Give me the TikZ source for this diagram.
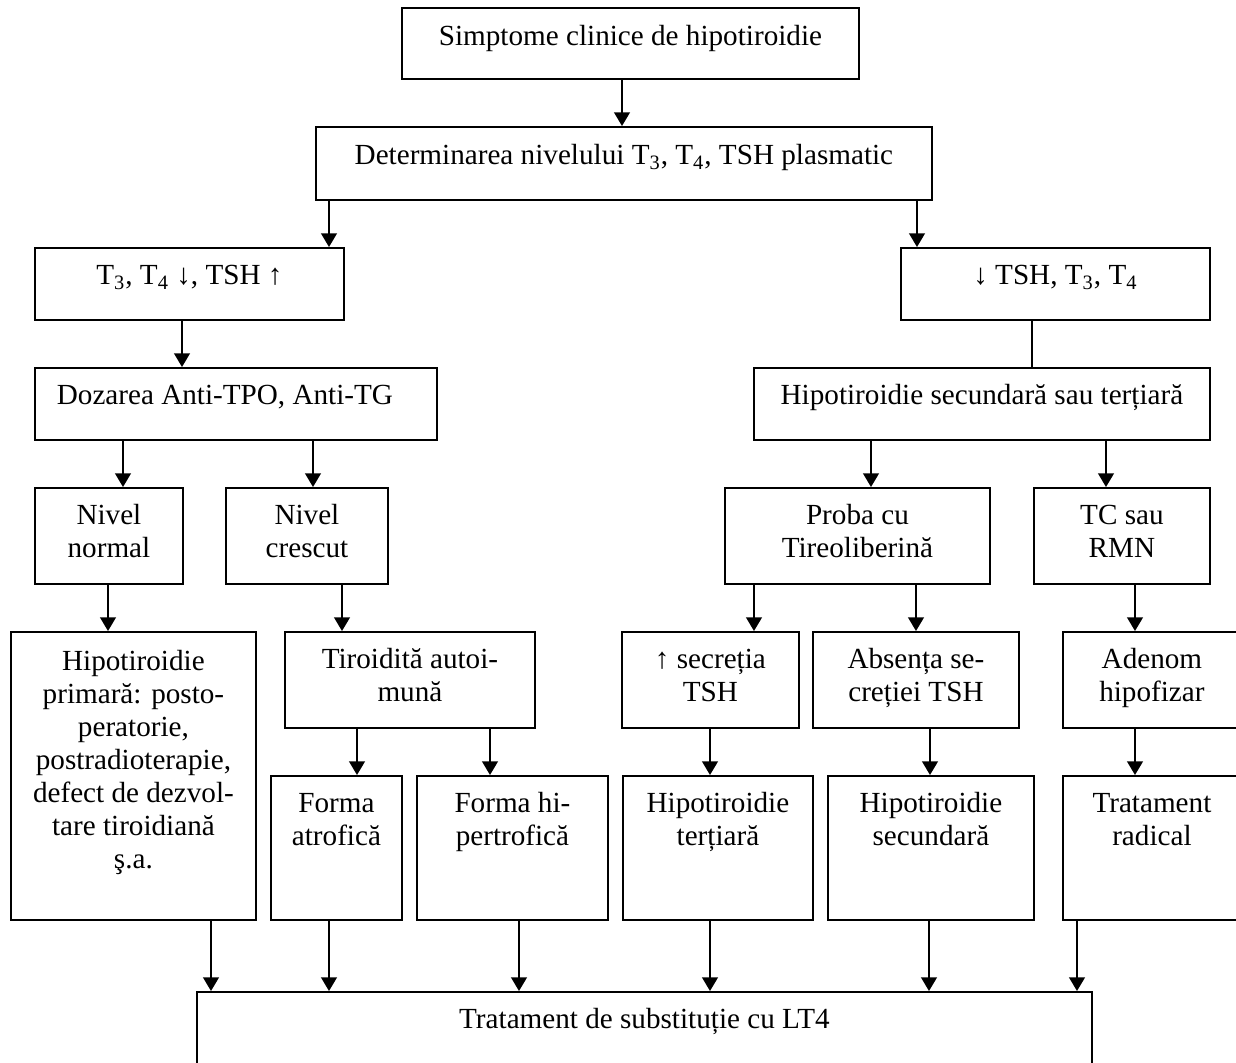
\documentclass[tikz,border=0pt]{standalone}
\usepackage{fontspec}
\setmainfont{Liberation Serif}
\usetikzlibrary{arrows.meta}
% text block of a box: [first baseline]{width}{height}{text}, sizes in px
\newcommand{\cell}[4][37]{\parbox[c][\dimexpr0.48bp*#3\relax][t]{\dimexpr0.48bp*#2\relax}{\centering\rule{0pt}{\dimexpr0.48bp*#1\relax}#4}}

\begin{document}
\begin{tikzpicture}[x=0.48bp, y=-0.48bp,
  font={\fontsize{14bp}{15.84bp}\selectfont},
  box/.style={draw, line width=0.9bp, inner sep=0pt, anchor=north west},
  arr/.style={line width=0.9bp, -{Triangle[width=7.5bp,length=6.5bp]}}]
  \useasboundingbox (0,0) rectangle (1236,1063);
  \node[box] (sympt) at (401,7) {\cell[38]{457}{71}{Simptome clinice de hipotiroidie}};
  \node[box] (determ) at (315,126) {\cell[38]{616}{73}{Determinarea nivelului T\textsubscript{3}, T\textsubscript{4}, TSH plasmatic}};
  \node[box] (tshup) at (34,247) {\cell{309}{72}{T\textsubscript{3}, T\textsubscript{4} ↓, TSH ↑}};
  \node[box] (tshdown) at (900,247) {\cell{309}{72}{↓ TSH, T\textsubscript{3}, T\textsubscript{4}}};
  \node[box] (dozare) at (34,367) {\cell{402}{72}{Dozarea Anti-TPO, Anti-TG\hspace*{\dimexpr0.48bp*22\relax}}};
  \node[box] (secter) at (753,367) {\cell{456}{72}{Hipotiroidie secundară sau terțiară}};
  % level of antibodies, tests
  \node[box] (normal) at (34,487) {\cell{148}{96}{Nivel\\normal}};
  \node[box] (crescut) at (225,487) {\cell{162}{96}{Nivel\\crescut}};
  \node[box] (proba) at (724,487) {\cell{265}{96}{Proba cu\\Tireoliberină}};
  \node[box] (tcrmn) at (1033,487) {\cell{176}{96}{TC sau\\RMN}};
  % diagnoses
  \node[box] (primara) at (10,631) {\cell[39]{245}{288}{Hipotiroidie\\primară: posto-\\peratorie,\\postradioterapie,\\defect de dezvol-\\tare tiroidiană\\ş.a.}};
  \node[box] (autoim) at (284,631) {\cell{250}{96}{Tiroidită autoi-\\mună}};
  \node[box] (secretia) at (621,631) {\cell{177}{96}{↑ secreția\\TSH}};
  \node[box] (absenta) at (812,631) {\cell{206}{96}{Absența se-\\creției TSH}};
  \node[box] (adenom) at (1062,631) {\cell{178}{96}{Adenom\\hipofizar}};
  \node[box] (atrof) at (270,775) {\cell{131}{144}{Forma\\atrofică}};
  \node[box] (hipertrof) at (416,775) {\cell{191}{144}{Forma hi-\\pertrofică}};
  \node[box] (tertiara) at (622,775) {\cell{190}{144}{Hipotiroidie\\terțiară}};
  \node[box] (secundara) at (827,775) {\cell{206}{144}{Hipotiroidie\\secundară}};
  \node[box] (radical) at (1062,775) {\cell{178}{144}{Tratament\\radical}};
  \node[box] (lt4) at (196,991) {\cell{895}{72}{Tratament de substituție cu LT4}};

  \draw[arr] (sympt.south -| 622,0) -- (determ.north -| 622,0);
  \draw[arr] (determ.south -| 329,0) -- (tshup.north -| 329,0);
  \draw[arr] (determ.south -| 917,0) -- (tshdown.north -| 917,0);
  \draw[arr] (tshup.south -| 182,0) -- (dozare.north -| 182,0);
  \draw[line width=0.9bp] (tshdown.south -| 1032,0) -- (secter.north -| 1032,0);
  \draw[arr] (dozare.south -| 123,0) -- (normal.north -| 123,0);
  \draw[arr] (dozare.south -| 313,0) -- (crescut.north -| 313,0);
  \draw[arr] (secter.south -| 871,0) -- (proba.north -| 871,0);
  \draw[arr] (secter.south -| 1106,0) -- (tcrmn.north -| 1106,0);
  \draw[arr] (normal.south -| 108,0) -- (primara.north -| 108,0);
  \draw[arr] (crescut.south -| 342,0) -- (autoim.north -| 342,0);
  \draw[arr] (proba.south -| 754,0) -- (secretia.north -| 754,0);
  \draw[arr] (proba.south -| 916,0) -- (absenta.north -| 916,0);
  \draw[arr] (tcrmn.south -| 1135,0) -- (adenom.north -| 1135,0);
  \draw[arr] (autoim.south -| 357,0) -- (atrof.north -| 357,0);
  \draw[arr] (autoim.south -| 490,0) -- (hipertrof.north -| 490,0);
  \draw[arr] (secretia.south -| 710,0) -- (tertiara.north -| 710,0);
  \draw[arr] (absenta.south -| 930,0) -- (secundara.north -| 930,0);
  \draw[arr] (adenom.south -| 1135,0) -- (radical.north -| 1135,0);
  % all to substitution treatment
  \draw[arr] (primara.south -| 211,0) -- (lt4.north -| 211,0);
  \draw[arr] (atrof.south -| 329,0) -- (lt4.north -| 329,0);
  \draw[arr] (hipertrof.south -| 519,0) -- (lt4.north -| 519,0);
  \draw[arr] (tertiara.south -| 710,0) -- (lt4.north -| 710,0);
  \draw[arr] (secundara.south -| 929,0) -- (lt4.north -| 929,0);
  \draw[arr] (radical.south -| 1077,0) -- (lt4.north -| 1077,0);
\end{tikzpicture}
\end{document}
